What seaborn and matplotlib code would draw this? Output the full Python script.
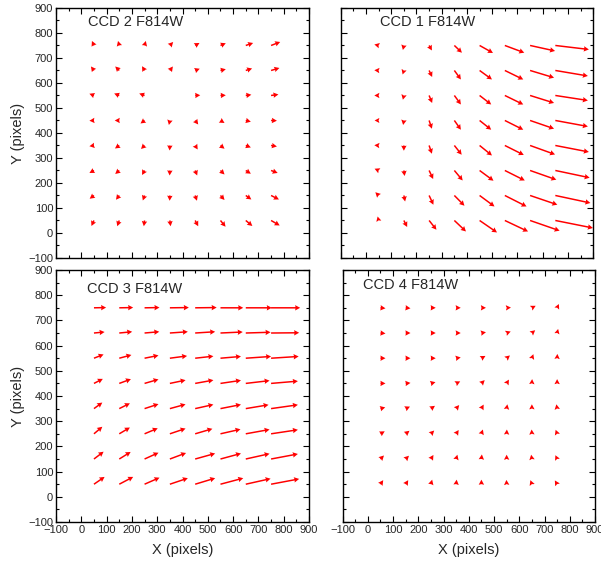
import numpy as np
import matplotlib
matplotlib.use("Agg")
import matplotlib.pyplot as plt
import seaborn as sns
from matplotlib.ticker import MultipleLocator

# grid of reference positions (pixels)
x_pos = [50, 150, 250, 350, 450, 550, 650, 750]
y_pos = [750, 650, 550, 450, 350, 250, 150, 50]   # rows, top to bottom

# arrow components (plot units), rows follow y_pos, columns follow x_pos
ccd2_u = [[-8, -5, 5, 13, 17, 21, 29, 36],
          [-12, -16, -10, 12, 18, 21, 25, 33],
          [-18, -20, -21, 0, 20, 21, 22, 29],
          [-18, -18, -16, -4, 12, 16, 20, 23],
          [-18, -17, -14, -1, 10, 16, 20, 23],
          [-18, -16, -10, -1, 8, 16, 20, 26],
          [-17, -13, -7, -1, 7, 16, 22, 31],
          [-10, -8, -3, 3, 12, 20, 26, 34]]
ccd2_v = [[18, 18, 18, 14, 10, 9, 10, 14],
          [16, 16, 17, 16, 7, 5, 8, 10],
          [7, 8, 8, 0, 1, 1, 3, 4],
          [-1, 0, -12, -18, -16, -10, -5, -1],
          [-3, -12, -14, -20, -16, -13, -8, -4],
          [-10, -14, -18, -20, -20, -16, -13, -10],
          [-13, -17, -20, -21, -21, -18, -16, -16],
          [-22, -23, -23, -23, -23, -25, -22, -20]]

ccd1_u = [[-17, -4, 11, 30, 53, 77, 99, 133],
          [-17, -5, 12, 26, 49, 73, 95, 129],
          [-17, -4, 12, 26, 46, 73, 95, 129],
          [-16, -3, 11, 26, 46, 73, 95, 129],
          [-17, 0, 11, 29, 49, 75, 99, 133],
          [-16, 3, 16, 33, 55, 79, 104, 136],
          [-13, 5, 17, 40, 59, 86, 108, 139],
          [-4, 13, 29, 46, 69, 92, 117, 149]]
ccd1_v = [[4, -18, -20, -29, -30, -29, -22, -16],
          [1, -16, -26, -36, -36, -36, -29, -22],
          [0, -17, -30, -36, -36, -36, -30, -20],
          [0, -18, -33, -37, -37, -37, -33, -24],
          [1, -21, -33, -37, -40, -38, -36, -26],
          [7, -22, -34, -40, -41, -40, -37, -29],
          [13, -24, -37, -41, -44, -44, -37, -30],
          [16, -26, -37, -44, -48, -44, -41, -30]]

ccd3_u = [[48, 55, 59, 75, 85, 90, 103, 115],
          [42, 51, 58, 71, 79, 88, 98, 111],
          [38, 48, 55, 68, 72, 81, 100, 109],
          [35, 46, 55, 62, 72, 81, 94, 106],
          [33, 42, 55, 62, 72, 81, 90, 106],
          [33, 42, 52, 62, 68, 79, 94, 106],
          [38, 45, 55, 64, 79, 81, 94, 106],
          [42, 55, 59, 71, 79, 90, 98, 111]]
ccd3_v = [[1, 1, 1, 1, 1, 0, 0, 0],
          [4, 5, 5, 5, 5, 4, 3, 1],
          [15, 13, 11, 9, 8, 7, 7, 7],
          [18, 17, 16, 13, 13, 12, 11, 9],
          [24, 21, 18, 17, 16, 16, 15, 15],
          [28, 25, 22, 21, 20, 18, 17, 16],
          [29, 28, 25, 24, 22, 22, 21, 20],
          [29, 29, 26, 24, 24, 24, 22, 21]]

ccd4_u = [[20, 19, 19, 18, 18, 17, 15, 7],
          [20, 19, 19, 18, 18, 16, 13, 4],
          [20, 19, 19, 18, 16, 13, 6, 1],
          [20, 19, 18, 16, 13, 9, 1, 0],
          [19, 17, 16, 12, 9, 3, 0, -3],
          [17, 15, 13, 10, 6, 1, -1, -6],
          [14, 13, 10, 5, 2, 0, -3, -7],
          [11, 10, 5, 2, 0, -1, -6, -9]]
ccd4_v = [[-2, -2, 0, 0, 0, 1, 8, 15],
          [-2, 0, 0, 0, 3, 6, 11, 16],
          [0, 0, 0, 3, 9, 11, 16, 17],
          [0, 2, 5, 8, 13, 15, 17, 17],
          [5, 8, 11, 14, 16, 17, 17, 17],
          [10, 12, 13, 15, 17, 17, 17, 16],
          [14, 13, 16, 17, 18, 17, 17, 15],
          [16, 16, 18, 18, 18, 17, 16, 15]]

panels = [
    ("CCD 2 F814W", ccd2_u, ccd2_v, (26, 844)),
    ("CCD 1 F814W", ccd1_u, ccd1_v, (55, 844)),
    ("CCD 3 F814W", ccd3_u, ccd3_v, (22, 826)),
    ("CCD 4 F814W", ccd4_u, ccd4_v, (-19, 840)),
]

sns.set_style("ticks")
plt.rcParams['font.family'] = ['Liberation Sans', 'DejaVu Sans']

fig = plt.figure(figsize=(6.01, 5.65), dpi=100)
rects = [
    [0.0932, 0.5434, 0.421, 0.4425],
    [0.567, 0.5434, 0.420, 0.4425],
    [0.0932, 0.0761, 0.421, 0.446],
    [0.570, 0.0761, 0.420, 0.446],
]

X, Y = np.meshgrid(x_pos, y_pos)

for i, (title, u, v, tpos) in enumerate(panels):
    ax = fig.add_axes(rects[i])
    U = np.array(u, dtype=float)
    V = np.array(v, dtype=float)
    keep = (U != 0) | (V != 0)
    # short arrows get a scaled-down solid head (minshaft)
    ax.quiver(X[keep], Y[keep], U[keep], V[keep], color='red',
              angles='xy', scale_units='xy', scale=1, pivot='tail',
              units='dots', width=1.5, headwidth=3.6, headlength=3.4,
              headaxislength=3.1, minshaft=0.85, minlength=0)
    ax.set_xlim(-100, 900)
    ax.set_ylim(-100, 900)
    ax.xaxis.set_major_locator(MultipleLocator(100))
    ax.yaxis.set_major_locator(MultipleLocator(100))
    ax.xaxis.set_minor_locator(MultipleLocator(50))
    ax.yaxis.set_minor_locator(MultipleLocator(50))
    ax.tick_params(which='both', direction='in', top=True, right=True,
                   labelsize=8, pad=2, width=0.8, color='black')
    ax.tick_params(which='major', length=4)
    ax.tick_params(which='minor', length=2)
    for s in ax.spines.values():
        s.set_linewidth(1.0)
        s.set_color('black')
    ax.text(tpos[0], tpos[1], title, fontsize=10.5, va='center', ha='left')
    if i in (0, 2):
        ax.set_ylabel("Y (pixels)", fontsize=10.5, labelpad=2)
    else:
        ax.tick_params(labelleft=False)
    if i in (2, 3):
        ax.set_xlabel("X (pixels)", fontsize=10.5, labelpad=6)
    else:
        ax.tick_params(labelbottom=False)

plt.savefig("out.png", dpi=100)
